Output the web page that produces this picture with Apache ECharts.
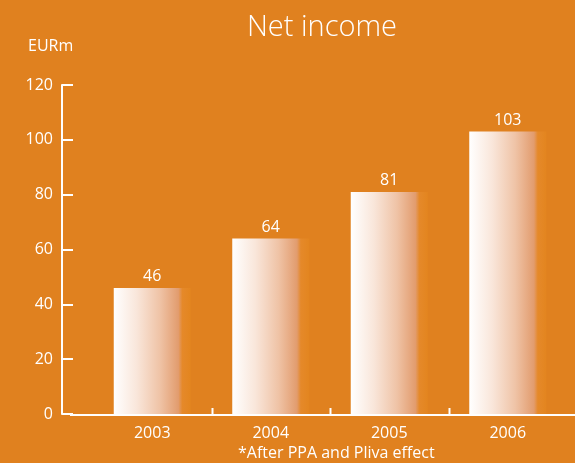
<!DOCTYPE html>
<html>
<head>
<meta charset="utf-8">
<script src="https://cdn.jsdelivr.net/npm/echarts@6/dist/echarts.min.js"></script>
<style>
  html, body { margin: 0; padding: 0; background: #e0811f; }
  #chart { width: 575px; height: 463px; }
</style>
</head>
<body>
<div id="chart"></div>
<script>
// Net income by year, EURm
const years = ['2003', '2004', '2005', '2006'];
const netIncome = [46, 64, 81, 103];
const yTicks = { min: 0, max: 120, step: 20 };

const FONT = '"Open Sans", "Noto Sans", sans-serif';
const WHITE = '#ffffff';
const BG = '#e0811f';

const chart = echarts.init(document.getElementById('chart'), null, { renderer: 'canvas' });

// white-to-orange sheen across each bar
const barFill = new echarts.graphic.LinearGradient(0, 0, 1, 0, [
  { offset: 0, color: '#ffffff' },
  { offset: 0.3, color: '#f9e6da' },
  { offset: 0.6, color: '#efc3a6' },
  { offset: 0.84, color: '#e29c6e' },
  { offset: 0.89, color: '#e5892a' },
  { offset: 1, color: '#e3851f' }
]);

chart.setOption({
  backgroundColor: BG,
  animation: false,
  textStyle: { fontFamily: FONT },
  title: [
    {
      text: 'Net income',
      left: 322, top: 13, padding: 0, textAlign: 'center',
      textStyle: { color: WHITE, fontSize: 29, fontWeight: 300, fontFamily: FONT }
    },
    {
      text: 'EURm',
      left: 28, top: 38, padding: 0,
      textStyle: { color: WHITE, fontSize: 16, fontWeight: 'normal', fontFamily: FONT }
    },
    {
      text: '*After PPA and Pliva effect',
      left: 238, top: 445, padding: 0,
      textStyle: { color: WHITE, fontSize: 16, fontWeight: 'normal', fontFamily: FONT }
    }
  ],
  grid: { left: 93, right: 8, top: 85, bottom: 49 },
  xAxis: {
    type: 'category',
    data: years,
    axisLine: { show: false },
    axisTick: { show: false },
    axisLabel: { color: WHITE, fontSize: 16, margin: 11, fontFamily: FONT }
  },
  yAxis: {
    type: 'value',
    min: yTicks.min, max: yTicks.max, interval: yTicks.step,
    offset: 31,
    splitLine: { show: false },
    axisLine: { show: true, lineStyle: { color: WHITE, width: 2 } },
    axisTick: { show: true, inside: true, length: 11, lineStyle: { color: WHITE, width: 2 } },
    axisLabel: { color: WHITE, fontSize: 16, margin: 9, fontFamily: FONT }
  },
  series: [{
    type: 'bar',
    data: netIncome,
    barWidth: 77,
    itemStyle: { color: barFill },
    label: {
      show: true, position: 'top', distance: 3,
      color: WHITE, fontSize: 16, fontFamily: FONT
    }
  }]
});

// baseline and category separators, placed from the axis scales
const y0 = chart.convertToPixel({ yAxisIndex: 0 }, 0);
const c0 = chart.convertToPixel({ xAxisIndex: 0 }, years[0]);
const c1 = chart.convertToPixel({ xAxisIndex: 0 }, years[1]);
const step = c1 - c0;
const lineStyle = { stroke: WHITE, lineWidth: 2 };
const deco = [{
  type: 'line', z: 10,
  shape: { x1: 70, y1: y0 + 1, x2: 575, y2: y0 + 1 },
  style: lineStyle
}];
for (let i = 1; i < years.length; i++) {
  const x = Math.round(c0 + step * (i - 0.5)) + 0.5;
  deco.push({
    type: 'line', z: 10,
    shape: { x1: x, y1: y0 + 1, x2: x, y2: y0 - 6 },
    style: lineStyle
  });
}
chart.setOption({ graphic: deco });
</script>
</body>
</html>
